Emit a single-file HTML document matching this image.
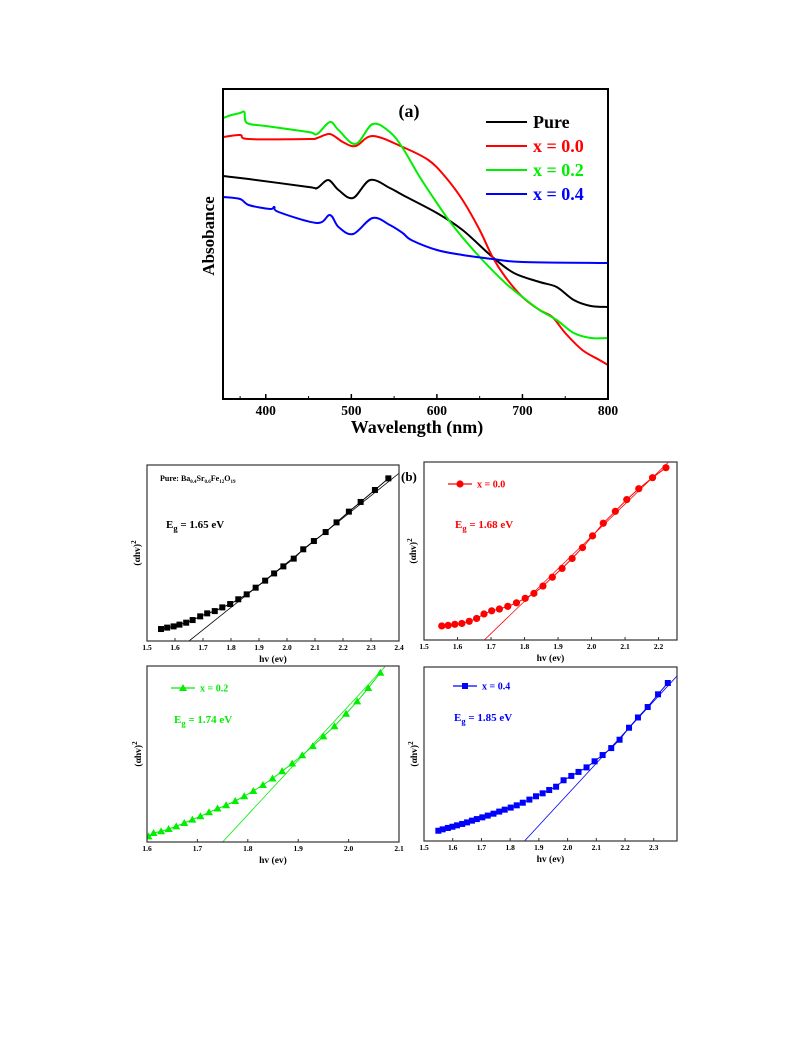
<!DOCTYPE html>
<html><head><meta charset="utf-8"><style>
html,body{margin:0;padding:0;background:#fff;}
svg{display:block;font-family:"Liberation Serif",serif;font-weight:bold;}
</style></head><body>
<svg id="fig" width="793" height="1057" viewBox="0 0 793 1057">
<g id="pa"></g>
<g id="p1"></g>
<g id="p2"></g>
<g id="p3"></g>
<g id="p4"></g>
</svg>
<script>
// ---- Panel (a) data ----
const aTicks = [400, 500, 600, 700, 800];
const greenX = [350,360,370,375,378,400,450,460,475,485,505,525,545,560,580,600,620,650,680,700,720,740,760,780,800];
const greenY = [2.81,2.84,2.86,2.87,2.76,2.73,2.67,2.65,2.77,2.69,2.55,2.75,2.67,2.51,2.22,1.96,1.72,1.42,1.16,1.02,0.89,0.79,0.66,0.61,0.61];
const redX = [350,370,380,450,460,475,490,505,525,560,590,610,630,650,665,680,700,720,735,750,770,790,800];
const redY = [2.62,2.64,2.60,2.60,2.61,2.65,2.57,2.53,2.63,2.52,2.39,2.22,1.99,1.69,1.42,1.22,1.02,0.89,0.82,0.66,0.49,0.39,0.34];
const blackX = [350,380,450,460,473,485,502,522,545,560,600,630,665,690,720,740,760,780,800];
const blackY = [2.23,2.20,2.12,2.11,2.19,2.09,2.01,2.19,2.11,2.04,1.86,1.69,1.42,1.26,1.17,1.12,0.99,0.93,0.92];
const blueX = [350,370,380,405,410,415,460,475,485,502,525,545,560,570,600,630,665,700,800];
const blueY = [2.02,2.00,1.94,1.90,1.92,1.87,1.76,1.84,1.72,1.65,1.81,1.74,1.66,1.59,1.49,1.44,1.40,1.37,1.36];
const legendLabels = ["Pure","x = 0.0","x = 0.2","x = 0.4"];

// ---- Panel (b) data ----
const p1Ticks = ["1.5","1.6","1.7","1.8","1.9","2.0","2.1","2.2","2.3","2.4"];
const p1X = [1.55,1.572,1.595,1.616,1.64,1.663,1.69,1.715,1.742,1.769,1.797,1.826,1.856,1.888,1.922,1.954,1.987,2.024,2.058,2.096,2.138,2.177,2.221,2.263,2.314,2.362];
const p1Y = [0.068,0.076,0.083,0.093,0.104,0.119,0.140,0.157,0.170,0.191,0.210,0.237,0.265,0.303,0.343,0.384,0.424,0.468,0.521,0.568,0.619,0.674,0.735,0.790,0.858,0.924];
const p1FitX = [1.65, 2.4];
const p1FitY = [0, 0.953];

const p2Ticks = ["1.5","1.6","1.7","1.8","1.9","2.0","2.1","2.2"];
const p2X = [1.553,1.572,1.592,1.613,1.635,1.657,1.679,1.702,1.725,1.75,1.776,1.802,1.828,1.855,1.883,1.912,1.942,1.973,2.003,2.035,2.071,2.105,2.141,2.182,2.222];
const p2Y = [0.079,0.082,0.088,0.093,0.105,0.121,0.146,0.164,0.174,0.189,0.209,0.234,0.262,0.303,0.353,0.402,0.458,0.519,0.585,0.656,0.723,0.789,0.850,0.912,0.968];
const p2FitX = [1.68, 2.23];
const p2FitY = [0, 1.0];

const p3Ticks = ["1.6","1.7","1.8","1.9","2.0","2.1"];
const p3X = [1.603,1.613,1.628,1.643,1.658,1.674,1.69,1.706,1.723,1.74,1.757,1.775,1.793,1.811,1.83,1.849,1.868,1.888,1.908,1.929,1.95,1.972,1.995,2.017,2.039,2.063];
const p3Y = [0.032,0.051,0.061,0.074,0.089,0.108,0.127,0.146,0.169,0.190,0.209,0.233,0.260,0.290,0.324,0.361,0.402,0.446,0.493,0.545,0.600,0.658,0.729,0.799,0.875,0.962];
const p3FitX = [1.75, 2.072];
const p3FitY = [0, 0.996];

const p4Ticks = ["1.5","1.6","1.7","1.8","1.9","2.0","2.1","2.2","2.3"];
const p4X = [1.550,1.565,1.583,1.599,1.615,1.633,1.650,1.667,1.684,1.703,1.722,1.742,1.762,1.781,1.802,1.823,1.844,1.867,1.890,1.913,1.936,1.960,1.986,2.013,2.038,2.066,2.094,2.122,2.152,2.181,2.214,2.245,2.279,2.315,2.349];
const p4Y = [0.059,0.067,0.075,0.082,0.090,0.098,0.107,0.117,0.126,0.136,0.146,0.157,0.169,0.180,0.192,0.205,0.220,0.238,0.257,0.274,0.293,0.312,0.349,0.374,0.397,0.423,0.458,0.494,0.534,0.582,0.651,0.710,0.770,0.843,0.908];
const p4FitX = [1.85, 2.381];
const p4FitY = [0, 0.948];

const NS = "http://www.w3.org/2000/svg";
function mk(parent, tag, attrs, text) {
  const e = document.createElementNS(NS, tag);
  for (const k in attrs) e.setAttribute(k, attrs[k]);
  if (text !== undefined) e.textContent = text;
  parent.appendChild(e);
  return e;
}
function lin(d0, d1, r0, r1) { return v => r0 + (v - d0) / (d1 - d0) * (r1 - r0); }
function smoothPath(pts) {
  let d = "M" + pts[0][0].toFixed(2) + "," + pts[0][1].toFixed(2);
  for (let i = 0; i < pts.length - 1; i++) {
    const p0 = pts[Math.max(0, i - 1)], p1 = pts[i], p2 = pts[i + 1], p3 = pts[Math.min(pts.length - 1, i + 2)];
    const c1x = p1[0] + (p2[0] - p0[0]) / 6, c1y = p1[1] + (p2[1] - p0[1]) / 6;
    const c2x = p2[0] - (p3[0] - p1[0]) / 6, c2y = p2[1] - (p3[1] - p1[1]) / 6;
    d += "C" + c1x.toFixed(2) + "," + c1y.toFixed(2) + " " + c2x.toFixed(2) + "," + c2y.toFixed(2) + " " + p2[0].toFixed(2) + "," + p2[1].toFixed(2);
  }
  return d;
}

// ===== Panel (a) =====
(function () {
  const g = document.getElementById("pa");
  const L = 223, R = 608, T = 89, B = 399;
  const sx = lin(350, 800, L, R), sy = lin(0, 3.1, B, T);
  const series = [[blackX, blackY, "#000000", "pure"], [redX, redY, "#ff0000", "x00"], [greenX, greenY, "#00ee00", "x02"], [blueX, blueY, "#0000ff", "x04"]];
  series.forEach(s => {
    const pts = s[0].map((x, i) => [sx(x), sy(s[1][i])]);
    const p = mk(g, "path", { d: smoothPath(pts), fill: "none", stroke: s[2], "stroke-width": 2 });
    
    
  });
  const box = mk(g, "rect", { x: L, y: T, width: R - L, height: B - T, fill: "none", stroke: "#000", "stroke-width": 2 });
  
  
  aTicks.forEach(t => {
    const tk = mk(g, "line", { x1: sx(t), x2: sx(t), y1: B, y2: B - 5, stroke: "#000", "stroke-width": 1.5 });
    
    
    const lb = mk(g, "text", { x: sx(t), y: 415, "font-size": 13.5, "text-anchor": "middle" }, String(t));
    
    
  });
  [370, 450, 550, 650, 750].forEach(t => {
    const tk = mk(g, "line", { x1: sx(t), x2: sx(t), y1: B, y2: B - 3, stroke: "#000", "stroke-width": 1 });
    
    
  });
  const xt = mk(g, "text", { x: 417, y: 433, "font-size": 18, "text-anchor": "middle" }, "Wavelength (nm)");
  
  
  const yt = mk(g, "text", { x: 0, y: 0, "font-size": 17, "text-anchor": "middle", transform: "translate(214,236) rotate(-90)" }, "Absobance");
  
  
  const pl = mk(g, "text", { x: 409, y: 117, "font-size": 18, "text-anchor": "middle" }, "(a)");
  
  
  const cols = ["#000000", "#ff0000", "#00ee00", "#0000ff"];
  legendLabels.forEach((lab, i) => {
    const y = 122 + i * 24;
    const ln = mk(g, "line", { x1: 486, x2: 527, y1: y, y2: y, stroke: cols[i], "stroke-width": 2 });
    
    
    const tx = mk(g, "text", { x: 533, y: y + 6, "font-size": 18, fill: cols[i] }, lab);
    
    
  });
})();

// ===== Panel (b) subplots =====
function subplot(id, cfg) {
  const g = document.getElementById(id);
  const sx = lin(cfg.x0, cfg.x1, cfg.L, cfg.R), sy = lin(0, 1, cfg.B, cfg.T);
  const clipId = "clip-" + id;
  const defs = mk(g, "defs", {});
  const cp = mk(defs, "clipPath", { id: clipId });
  mk(cp, "rect", { x: cfg.L, y: cfg.T, width: cfg.R - cfg.L, height: cfg.B - cfg.T });
  const cg = mk(g, "g", { "clip-path": "url(#" + clipId + ")" });
  const fit = mk(cg, "line", { x1: sx(cfg.fitX[0]), y1: sy(cfg.fitY[0]), x2: sx(cfg.fitX[1]), y2: sy(cfg.fitY[1]), stroke: cfg.color, "stroke-width": 0.8 });
  
  
  const pts = cfg.xs.map((x, i) => [sx(x), sy(cfg.ys[i])]);
  const cv = mk(cg, "polyline", { points: pts.map(p => p[0].toFixed(1) + "," + p[1].toFixed(1)).join(" "), fill: "none", stroke: cfg.color, "stroke-width": 1 });
  
  
  function marker(par, x, y) {
    let m;
    if (cfg.marker === "square") m = mk(par, "rect", { x: x - 3, y: y - 3, width: 6, height: 6, fill: cfg.color });
    else if (cfg.marker === "circle") m = mk(par, "circle", { cx: x, cy: y, r: 3.6, fill: cfg.color });
    else m = mk(par, "polygon", { points: (x) + "," + (y - 4) + " " + (x - 4) + "," + (y + 3) + " " + (x + 4) + "," + (y + 3), fill: cfg.color });
    return m;
  }
  pts.forEach(p => {
    const m = marker(cg, p[0], p[1]);
    
    
  });
  const box = mk(g, "rect", { x: cfg.L, y: cfg.T, width: cfg.R - cfg.L, height: cfg.B - cfg.T, fill: "none", stroke: "#333", "stroke-width": 1.2 });
  
  
  cfg.ticks.forEach(t => {
    const x = sx(parseFloat(t));
    const tk = mk(g, "line", { x1: x, x2: x, y1: cfg.B, y2: cfg.B - 3, stroke: "#333", "stroke-width": 1 });
    
    
    const lb = mk(g, "text", { x: x, y: cfg.B + 9, "font-size": 7.5, "text-anchor": "middle" }, t);
    
    
  });
  const xt = mk(g, "text", { x: (cfg.L + cfg.R) / 2, y: cfg.B + 21, "font-size": 9.5, "text-anchor": "middle" }, "hv (ev)");
  
  
  const yt = mk(g, "text", { x: 0, y: 0, "font-size": 9.5, "text-anchor": "middle", transform: "translate(" + cfg.ylx + "," + ((cfg.T + cfg.B) / 2) + ") rotate(-90)" });
  
  
  yt.textContent = "(\u03b1hv)";
  mk(yt, "tspan", { dy: -4, "font-size": 7 }, "2");
  if (cfg.legend) {
    const ly = cfg.legend[1];
    const ll = mk(g, "line", { x1: cfg.legend[0] - 12, x2: cfg.legend[0] + 12, y1: ly, y2: ly, stroke: cfg.color, "stroke-width": 1.2 });
    
    
    const lm = marker(g, cfg.legend[0], ly);
    
    
    const lt = mk(g, "text", { x: cfg.legend[0] + 17, y: ly + 3.5, "font-size": 10, fill: cfg.color }, cfg.label);
    
    
  }
  const eg = mk(g, "text", { x: cfg.eg[0], y: cfg.eg[1], "font-size": 11, fill: cfg.color });
  
  
  eg.appendChild(document.createTextNode("E"));
  mk(eg, "tspan", { dy: 3, "font-size": 8.5 }, "g");
  mk(eg, "tspan", { dy: -3 }, " = " + cfg.egText);
  return g;
}

const g1 = subplot("p1", { L: 147, R: 399, T: 465, B: 641, x0: 1.5, x1: 2.4, xs: p1X, ys: p1Y, fitX: p1FitX, fitY: p1FitY, color: "#000", marker: "square", ticks: p1Ticks, ylx: 140, eg: [166, 528], egText: "1.65 eV" });
(function () {
  const t = mk(g1, "text", { x: 160, y: 481, "font-size": 8 });
  
  
  t.appendChild(document.createTextNode("Pure: Ba"));
  mk(t, "tspan", { dy: 2, "font-size": 5 }, "0.4");
  mk(t, "tspan", { dy: -2 }, "Sr");
  mk(t, "tspan", { dy: 2, "font-size": 5 }, "0.6");
  mk(t, "tspan", { dy: -2 }, "Fe");
  mk(t, "tspan", { dy: 2, "font-size": 5 }, "12");
  mk(t, "tspan", { dy: -2 }, "O");
  mk(t, "tspan", { dy: 2, "font-size": 5 }, "19");
  const b = mk(g1, "text", { x: 401, y: 481, "font-size": 13 }, "(b)");
  
  
})();
subplot("p2", { L: 424, R: 677, T: 462, B: 640, x0: 1.5, x1: 2.255, xs: p2X, ys: p2Y, fitX: p2FitX, fitY: p2FitY, color: "#ff0000", marker: "circle", ticks: p2Ticks, ylx: 416, legend: [460, 484], label: "x = 0.0", eg: [455, 528], egText: "1.68 eV" });
subplot("p3", { L: 147, R: 399, T: 666, B: 842, x0: 1.6, x1: 2.1, xs: p3X, ys: p3Y, fitX: p3FitX, fitY: p3FitY, color: "#00ee00", marker: "triangle", ticks: p3Ticks, ylx: 141, legend: [183, 688], label: "x = 0.2", eg: [174, 723], egText: "1.74 eV" });
subplot("p4", { L: 424, R: 677, T: 667, B: 841, x0: 1.5, x1: 2.381, xs: p4X, ys: p4Y, fitX: p4FitX, fitY: p4FitY, color: "#0000ff", marker: "square", ticks: p4Ticks, ylx: 417, legend: [465, 686], label: "x = 0.4", eg: [454, 721], egText: "1.85 eV" });
</script>
</body></html>
